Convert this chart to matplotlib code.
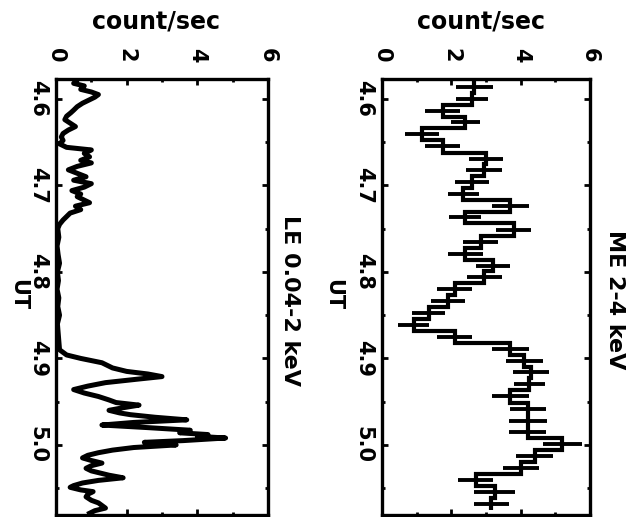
import numpy as np
import matplotlib
matplotlib.use('Agg')
import matplotlib.pyplot as plt
from matplotlib.ticker import MultipleLocator

plt.rcParams['font.family'] = ['DejaVu Sans']
plt.rcParams['font.weight'] = 'bold'

# LE 0.04-2 keV light curve (UT hours, count/sec)
le_ut = [4.578, 4.582, 4.585, 4.589, 4.592, 4.595, 4.598, 4.602, 4.605, 4.609,
         4.613, 4.616, 4.620, 4.624, 4.628, 4.632, 4.636, 4.640, 4.644, 4.648,
         4.652, 4.656, 4.659, 4.663, 4.667, 4.671, 4.674, 4.678, 4.682, 4.686,
         4.690, 4.694, 4.698, 4.702, 4.706, 4.710, 4.713, 4.717, 4.720, 4.724,
         4.728, 4.732, 4.736, 4.740, 4.745, 4.750, 4.760, 4.770, 4.780, 4.790,
         4.800, 4.810, 4.820, 4.830, 4.840, 4.850, 4.860, 4.870, 4.880, 4.890,
         4.896, 4.900, 4.905, 4.911, 4.915, 4.918, 4.921, 4.924, 4.928, 4.932,
         4.936, 4.940, 4.944, 4.948, 4.951, 4.954, 4.957, 4.960, 4.963, 4.965,
         4.968, 4.971, 4.974, 4.977, 4.980, 4.983, 4.986, 4.988, 4.990, 4.992,
         4.995, 4.997, 5.000, 5.003, 5.006, 5.009, 5.012, 5.015, 5.018, 5.021,
         5.024, 5.027, 5.030, 5.032, 5.035, 5.038, 5.041, 5.044, 5.047, 5.049,
         5.052, 5.054, 5.057, 5.060, 5.064, 5.067, 5.070, 5.073, 5.076, 5.079]
le_rate = [0.6, 0.5, 0.8, 0.7, 1.0, 1.2, 1.1, 0.9, 0.75, 0.6,
           0.5, 0.42, 0.3, 0.25, 0.4, 0.55, 0.35, 0.2, 0.15, 0.2,
           0.1, 0.3, 1.0, 0.8, 0.95, 0.7, 1.0, 0.6, 0.35, 0.6,
           0.85, 0.5, 1.0, 0.8, 0.45, 0.7, 0.6, 0.8, 0.95, 0.55,
           0.7, 0.4, 0.3, 0.2, 0.1, 0.05, 0.08, 0.03, 0.06, 0.1,
           0.04, 0.07, 0.03, 0.08, 0.05, 0.1, 0.04, 0.06, 0.08, 0.1,
           0.3, 0.7, 1.3, 1.6, 2.0, 2.6, 3.0, 2.3, 1.4, 0.9,
           0.5, 0.8, 1.2, 1.5, 1.7, 2.35, 1.9, 1.5, 1.8, 2.1,
           2.8, 3.7, 2.2, 1.3, 2.6, 3.8, 3.5, 4.3, 4.0, 4.8,
           3.6, 2.5, 3.4, 2.2, 1.6, 1.2, 0.9, 0.75, 1.0, 1.3,
           1.0, 0.85, 1.0, 1.2, 1.5, 1.9, 1.2, 0.75, 0.5, 0.4,
           0.7, 1.05, 0.9, 0.85, 1.0, 1.2, 1.3, 1.4, 1.1, 0.95]

# ME 2-4 keV binned light curve
me_ut = [4.586, 4.600, 4.614, 4.627, 4.641, 4.655, 4.669, 4.682, 4.696, 4.710,
         4.724, 4.737, 4.751, 4.765, 4.779, 4.793, 4.806, 4.820, 4.834, 4.848,
         4.861, 4.875, 4.889, 4.903, 4.916, 4.930, 4.944, 4.958, 4.972, 4.985,
         4.999, 5.013, 5.027, 5.040, 5.054, 5.068]
me_rate = [2.66, 2.6, 1.75, 2.4, 1.15, 1.75, 3.0, 2.95, 2.6, 2.35,
           3.7, 2.4, 3.8, 2.85, 2.4, 3.2, 2.95, 2.1, 1.9, 1.35,
           0.92, 2.1, 3.7, 4.1, 4.3, 4.25, 3.7, 4.2, 4.2, 4.2,
           5.2, 4.4, 4.0, 2.7, 3.25, 3.15]
me_err = [0.53, 0.46, 0.5, 0.42, 0.5, 0.5, 0.5, 0.52, 0.48, 0.46,
          0.53, 0.46, 0.5, 0.5, 0.5, 0.5, 0.5, 0.5, 0.5, 0.48,
          0.45, 0.5, 0.53, 0.53, 0.53, 0.45, 0.53, 0.52, 0.55, 0.53,
          0.56, 0.53, 0.52, 0.5, 0.6, 0.5]

count_ticks = [0, 2, 4, 6]
ut_ticks = [4.6, 4.7, 4.8, 4.9, 5.0]
ut_labels = ['4.6', '4.7', '4.8', '4.9', '5.0']


def style_axis(ax, title, title_x, ut_label_x, count_label_x):
    ax.set_xlim(0, 6)
    ax.set_ylim(5.081, 4.577)
    ax.xaxis.tick_top()
    ax.set_xticks(count_ticks)
    ax.set_xticklabels([str(t) for t in count_ticks], rotation=-90)
    ax.set_yticks(ut_ticks)
    ax.set_yticklabels(ut_labels, rotation=-90, va='center')
    ax.xaxis.set_minor_locator(MultipleLocator(1))
    ax.yaxis.set_minor_locator(MultipleLocator(0.05))
    ax.tick_params(which='both', direction='in', top=True, bottom=True,
                   left=True, right=True, width=2)
    ax.tick_params(which='major', length=4, labelsize=15)
    ax.tick_params(which='minor', length=2.5)
    ax.tick_params(axis='x', pad=12)
    ax.tick_params(axis='y', pad=6)
    for s in ax.spines.values():
        s.set_linewidth(2.4)
    ax.text(count_label_x, 1.131, 'count/sec', transform=ax.transAxes,
            ha='center', va='center', fontsize=17, fontweight='bold')
    ax.text(ut_label_x, 0.505, 'UT', transform=ax.transAxes, rotation=-90,
            ha='center', va='center', fontsize=15, fontweight='bold')
    ax.text(title_x, 0.493, title, transform=ax.transAxes, rotation=-90,
            ha='center', va='center', fontsize=16, fontweight='bold')


fig = plt.figure(figsize=(6.27, 5.17), dpi=100)
ax1 = fig.add_axes([56 / 627, 2 / 517, 212 / 627, 436 / 517])
ax2 = fig.add_axes([382 / 627, 2 / 517, 208 / 627, 436 / 517])

ax1.plot(le_rate, le_ut, color='k', lw=3.6, solid_joinstyle='round')
style_axis(ax1, 'LE 0.04-2 keV', 1.104, -0.179, 0.47)

c = np.array(me_ut)
w = c[1] - c[0]
edges = np.concatenate([[c[0] - w / 2], (c[:-1] + c[1:]) / 2, [c[-1] + w / 2]])
ax2.stairs(me_rate, edges, orientation='horizontal', baseline=None,
           color='k', lw=3)
ax2.errorbar(me_rate, me_ut, xerr=me_err, fmt='none', ecolor='k',
             elinewidth=2.8, capsize=0)
style_axis(ax2, 'ME 2-4 keV', 1.12, -0.236, 0.476)

fig.savefig('out.png', dpi=100)
